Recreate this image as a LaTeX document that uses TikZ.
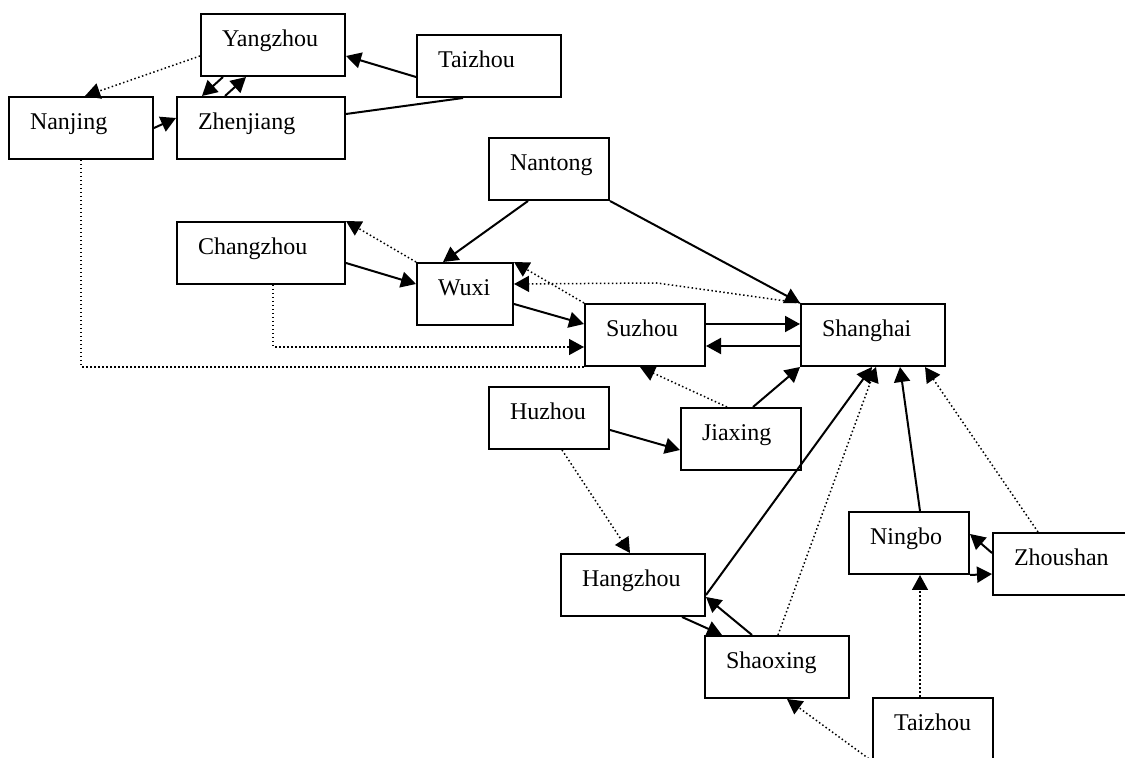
\documentclass[tikz,border=0pt]{standalone}
\usepackage{fontspec}
\setmainfont{Liberation Serif}
\usepackage{tikz}
\usetikzlibrary{arrows.meta}
\hfuzz=4pt
\tikzset{
city/.style={draw, line width=1pt, anchor=north west, inner xsep=10.5pt, inner ysep=0pt,
    text height=16.5pt, text depth=14.5pt, text width=#1, align=left,
    font=\fontsize{12pt}{14pt}\selectfont},
city/.default=51pt,
link/.style={-{Triangle[length=7.5pt,width=8pt]}, line width=1pt},
bare/.style={line width=1pt},
hint/.style={-{Triangle[length=7.5pt,width=8pt]}, line width=0.75pt, dash pattern=on 0.75pt off 1.25pt},
hintbare/.style={line width=0.75pt, dash pattern=on 0.75pt off 1.25pt}}

\begin{document}
\begin{tikzpicture}[x=0.5pt, y=-0.5pt]

                %1 unit = 1 px of the 1125x758 frame, y grows downwards
                \useasboundingbox (0,0) rectangle (1125,758);
                \clip (0,0) rectangle (1125,758);

                \node[city] (yangzhou) at (200,13) {Yangzhou};
                \node[city] (taizhouN) at (416,34) {Taizhou};
                \node[city] (nanjing) at (8,96) {Nanjing};
                \node[city=63pt] (zhenjiang) at (176,96) {Zhenjiang};
                \node[city=39pt] (nantong) at (488,137) {Nantong};
                \node[city=63pt] (changzhou) at (176,221) {Changzhou};
                \node[city=27pt] (wuxi) at (416,262) {Wuxi};
                \node[city=39pt] (suzhou) at (584,303) {Suzhou};
                \node[city] (shanghai) at (800,303) {Shanghai};
                \node[city=39pt] (huzhou) at (488,386) {Huzhou};
                \node[city=39pt] (jiaxing) at (680,407) {Jiaxing};
                \node[city=39pt] (ningbo) at (848,511) {Ningbo};
                \node[city] (zhoushan) at (992,532) {Zhoushan};
                \node[city] (hangzhou) at (560,553) {Hangzhou};
                \node[city] (shaoxing) at (704,635) {Shaoxing};
                \node[city=39pt] (taizhouS) at (872,697) {Taizhou};

                \coordinate (bend) at (657,283);

                % north group
                \draw[hint] ([shift={(0,11)}]yangzhou.west) -- ([shift={(4,0)}]nanjing.north);
                \draw[link] ([shift={(23,0)}]yangzhou.south west) -- ([shift={(26,0)}]zhenjiang.north west);
                \draw[link] ([shift={(49,0)}]zhenjiang.north west) -- ([shift={(46,0)}]yangzhou.south west);
                \draw[link] (nanjing.east) -- ([shift={(0,-10)}]zhenjiang.west);
                \draw[link] ([shift={(0,11)}]taizhouN.west) -- ([shift={(0,11)}]yangzhou.east);
                \draw[bare] ([shift={(47,0)}]taizhouN.south west) -- ([shift={(0,-14)}]zhenjiang.east);
                \draw[hintbare] (nanjing.south) |- (suzhou.south west);

                % middle group
                \draw[hint] ([shift={(97,0)}]changzhou.south west) |- ([shift={(0,-20)}]suzhou.south west);
                \draw[link] ([shift={(0,10)}]changzhou.east) -- ([shift={(0,-10)}]wuxi.west);
                \draw[hint] (wuxi.north west) -- (changzhou.north east);
                \draw[link] ([shift={(40,0)}]nantong.south west) -- ([shift={(27,0)}]wuxi.north west);
                \draw[link] (nantong.south east) -- (shanghai.north west);
                \draw[hint] (shanghai.north west) -- (bend) -- ([shift={(0,-10)}]wuxi.east);
                \draw[hint] (suzhou.north west) -- (wuxi.north east);
                \draw[link] ([shift={(0,10)}]wuxi.east) -- ([shift={(0,-11)}]suzhou.west);
                \draw[link] ([shift={(0,-11)}]suzhou.east) -- ([shift={(0,-11)}]shanghai.west);
                \draw[link] ([shift={(0,11)}]shanghai.west) -- ([shift={(0,11)}]suzhou.east);
                \draw[hint] ([shift={(47,0)}]jiaxing.north west) -- ([shift={(56,0)}]suzhou.south west);
                \draw[link] ([shift={(73,0)}]jiaxing.north west) -- (shanghai.south west);
                \draw[link] ([shift={(0,12)}]huzhou.east) -- ([shift={(0,11)}]jiaxing.west);
                \draw[hint] ([shift={(74,0)}]huzhou.south west) -- ([shift={(70,0)}]hangzhou.north west);

                % south group
                \draw[link] ([shift={(0,10)}]hangzhou.east) -- ([shift={(72,0)}]shanghai.south west);
                \draw[link] ([shift={(122,0)}]hangzhou.south west) -- ([shift={(18,0)}]shaoxing.north west);
                \draw[link] ([shift={(48,0)}]shaoxing.north west) -- ([shift={(0,12)}]hangzhou.east);
                \draw[hint] ([shift={(74,0)}]shaoxing.north west) -- ([shift={(76,0)}]shanghai.south west);
                \draw[link] ([shift={(72,0)}]ningbo.north west) -- ([shift={(100,0)}]shanghai.south west);
                \draw[hint] ([shift={(46,0)}]zhoushan.north west) -- ([shift={(125,0)}]shanghai.south west);
                \draw[link] ([shift={(0,-11)}]zhoushan.west) -- ([shift={(0,-9)}]ningbo.east);
                \draw[link] (ningbo.south east) -- ([shift={(0,10)}]zhoushan.west);
                \draw[hint] ([shift={(48,0)}]taizhouS.north west) -- ([shift={(72,0)}]ningbo.south west);
                \draw[hint] (taizhouS.south west) -- ([shift={(83,0)}]shaoxing.south west);

\end{tikzpicture}
\end{document}
